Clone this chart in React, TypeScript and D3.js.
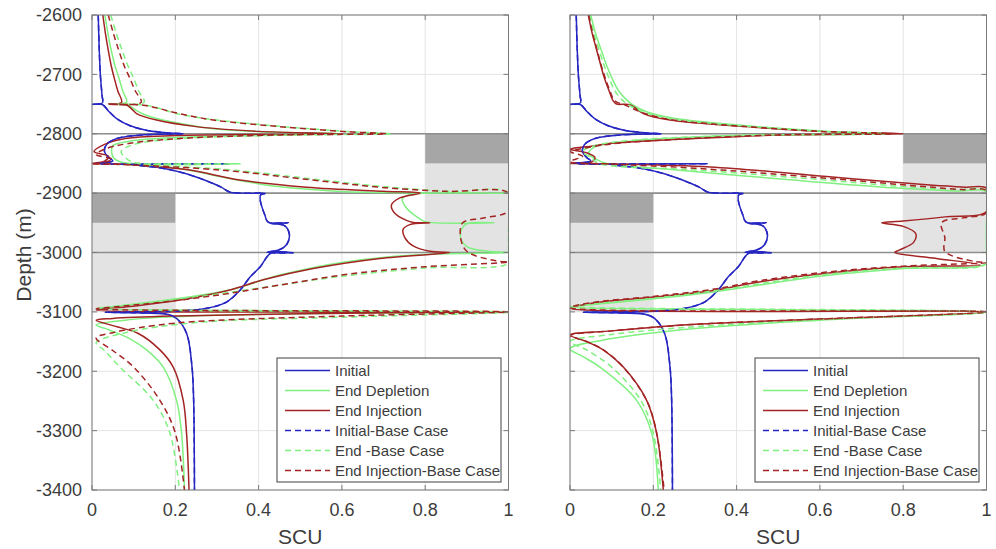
import React from 'react';
import * as d3 from 'd3';

type Pt = [number, number];

// ---- axis ticks ----
const scuTicks = [0, 0.2, 0.4, 0.6, 0.8, 1];
const scuTickLabels = ['0', '0.2', '0.4', '0.6', '0.8', '1'];
const depthTicks = [-2600, -2700, -2800, -2900, -3000, -3100, -3200, -3300, -3400];
const depthTickLabels = ['-2600', '-2700', '-2800', '-2900', '-3000', '-3100', '-3200', '-3300', '-3400'];

// ---- layer boundaries and shaded intervals ----
const layerBoundaries = [-2800, -2900, -3000];
// [scuFrom, scuTo, depthTop, depthBottom]
const darkZones: [number, number, number, number][] = [
  [0, 0.2, -2900, -2950],
  [0.8, 1, -2800, -2850],
];
const lightZones: [number, number, number, number][] = [
  [0, 0.2, -2950, -3100],
  [0.8, 1, -2850, -3000],
];

// ---- series ----
const seriesNames = ['Initial', 'End Depletion', 'End Injection', 'Initial-Base Case', 'End -Base Case', 'End Injection-Base Case'];

// Initial profile (identical in both panels)
const initialProfile: Pt[] = [
  [0.015, -2600], [0.017, -2650], [0.02, -2700], [0.024, -2735], [0.025, -2748], [0.0, -2750.5], [0.025, -2751],
  [0.04, -2762], [0.06, -2775], [0.09, -2786], [0.13, -2794], [0.18, -2798.5], [0.22, -2800],
  [0.12, -2802], [0.06, -2808], [0.035, -2818], [0.03, -2830], [0.04, -2840], [0.05, -2846], [0.01, -2850], [0.33, -2850.5], [0.1, -2852],
  [0.16, -2857], [0.22, -2866], [0.27, -2878], [0.31, -2890], [0.33, -2898], [0.36, -2900], [0.415, -2900.5], [0.405, -2903],
  [0.404, -2912], [0.415, -2937], [0.423, -2949], [0.471, -2950], [0.43, -2951], [0.463, -2955], [0.474, -2970], [0.467, -2987], [0.451, -2995], [0.42, -3000], [0.483, -3000.5], [0.43, -3001],
  [0.404, -3024], [0.38, -3041], [0.356, -3063], [0.324, -3083], [0.276, -3094], [0.212, -3098.5], [0.092, -3100], [0.032, -3100.5],
  [0.1, -3101.5], [0.18, -3104], [0.203, -3111], [0.227, -3136], [0.24, -3192], [0.244, -3248], [0.246, -3400],
];

// Left panel
const leftDepletion: Pt[] = [
  [0.031, -2600], [0.038, -2630], [0.046, -2659], [0.055, -2685], [0.064, -2705], [0.074, -2728], [0.083, -2747], [0.04, -2750], [0.087, -2752],
  [0.105, -2760], [0.127, -2768], [0.165, -2776], [0.207, -2782], [0.287, -2791], [0.407, -2796.5], [0.6, -2800],
  [0.207, -2806], [0.087, -2813], [0.05, -2820], [0.047, -2828], [0.051, -2840], [0.071, -2848], [0.347, -2850.5], [0.08, -2851.5],
  [0.207, -2858], [0.327, -2875], [0.447, -2889], [0.607, -2897.5], [0.75, -2899.3], [0.99, -2900.2], [0.76, -2903],
  [0.745, -2910], [0.755, -2925], [0.78, -2940], [0.8, -2948], [0.965, -2950], [0.9, -2951.5], [0.888, -2960], [0.885, -2975], [0.9, -2990], [0.95, -2998], [1.0, -3000],
  [0.771, -3004], [0.611, -3015.5], [0.451, -3038], [0.331, -3063], [0.211, -3077], [0.051, -3091], [0.011, -3094],
  [1.0, -3100.3], [0.5, -3103], [0.2, -3108], [0.08, -3114], [0.01, -3122], [0.04, -3130], [0.09, -3145], [0.131, -3164], [0.171, -3193], [0.203, -3249], [0.215, -3304], [0.222, -3400],
];
const leftInjection: Pt[] = [
  [0.026, -2600], [0.032, -2630], [0.039, -2659], [0.046, -2685], [0.053, -2705], [0.062, -2728], [0.071, -2747], [0.04, -2750], [0.083, -2751.5],
  [0.095, -2758], [0.107, -2766], [0.155, -2777], [0.25, -2788], [0.4, -2796], [0.6, -2800],
  [0.2, -2803], [0.08, -2808], [0.03, -2818], [0.005, -2830], [0.04, -2838], [0.03, -2846], [0.0, -2850], [0.06, -2851],
  [0.15, -2855], [0.235, -2861], [0.355, -2878], [0.515, -2890], [0.7, -2897], [0.788, -2900],
  [0.739, -2908], [0.719, -2920], [0.727, -2934], [0.755, -2946], [0.771, -2949.5], [0.811, -2950], [0.763, -2953],
  [0.747, -2961], [0.751, -2975], [0.771, -2989], [0.811, -2998], [0.859, -3000],
  [0.691, -3010], [0.531, -3027], [0.411, -3046], [0.331, -3063], [0.211, -3080], [0.091, -3091], [0.011, -3097],
  [1.0, -3100], [0.5, -3103], [0.2, -3107], [0.05, -3111], [0.01, -3114], [0.06, -3125], [0.11, -3136], [0.163, -3164], [0.195, -3193], [0.219, -3249], [0.227, -3304], [0.233, -3400],
];
const leftDepletionBase: Pt[] = [
  [0.045, -2600], [0.058, -2630], [0.072, -2659], [0.086, -2685], [0.099, -2705], [0.112, -2728], [0.125, -2747], [0.06, -2750], [0.13, -2752],
  [0.21, -2767], [0.3, -2777], [0.46, -2788], [0.62, -2796.5], [0.72, -2800],
  [0.45, -2802.5], [0.2, -2809], [0.1, -2818], [0.07, -2830], [0.08, -2840], [0.1, -2848], [0.36, -2850.5], [0.12, -2852],
  [0.32, -2860], [0.54, -2877], [0.7, -2889], [0.86, -2897], [1.0, -2900],
  [1.0, -2950], [1.0, -3000], [1.0, -3018],
  [0.8, -3026], [0.6, -3040], [0.4, -3060], [0.25, -3075], [0.12, -3086], [0.03, -3094],
  [1.0, -3100.5], [0.6, -3109], [0.25, -3118], [0.08, -3135], [0.01, -3152], [0.03, -3165], [0.067, -3193], [0.147, -3249], [0.187, -3304], [0.21, -3400],
];
const leftInjectionBase: Pt[] = [
  [0.039, -2600], [0.051, -2630], [0.064, -2659], [0.077, -2685], [0.09, -2705], [0.104, -2728], [0.118, -2747], [0.04, -2750.5], [0.123, -2752],
  [0.207, -2765.6], [0.291, -2776.8], [0.451, -2788], [0.611, -2796.5], [0.707, -2800],
  [0.451, -2802], [0.211, -2808], [0.091, -2816], [0.03, -2826], [0.01, -2835], [0.05, -2843], [0.02, -2849], [0.0, -2850.5], [0.08, -2852],
  [0.307, -2861], [0.53, -2878], [0.69, -2890], [0.85, -2897], [1.0, -2900],
  [1.0, -2930], [0.94, -2942], [0.89, -2950], [0.885, -2975], [0.9, -2998], [0.97, -3014], [1.0, -3016],
  [0.8, -3024], [0.62, -3036], [0.45, -3055], [0.3, -3072], [0.15, -3085], [0.05, -3092], [0.01, -3095],
  [1.0, -3100], [0.6, -3107], [0.2, -3119], [0.05, -3135], [0.01, -3144], [0.05, -3165], [0.1, -3193], [0.163, -3249], [0.2, -3304], [0.222, -3400],
];

// Right panel
const rightDepletion: Pt[] = [
  [0.05, -2600], [0.061, -2630], [0.075, -2659], [0.088, -2685], [0.1, -2705], [0.117, -2728], [0.136, -2743], [0.152, -2752],
  [0.184, -2763], [0.25, -2774], [0.45, -2788], [0.62, -2796], [0.76, -2800],
  [0.4, -2803], [0.15, -2812], [0.06, -2822], [0.045, -2833], [0.06, -2842], [0.088, -2850],
  [0.256, -2861], [0.536, -2878], [0.776, -2891], [0.93, -2896.5], [1.0, -2898.5],
  [1.0, -2950], [1.0, -3000], [1.0, -3018],
  [0.8, -3027], [0.6, -3040], [0.35, -3066], [0.2, -3078], [0.05, -3088], [0.0, -3092],
  [1.0, -3100.5], [0.6, -3114], [0.3, -3128], [0.1, -3145], [0.0, -3162], [0.03, -3175], [0.072, -3193], [0.16, -3249], [0.196, -3304], [0.212, -3400],
];
const rightInjection: Pt[] = [
  [0.044, -2600], [0.053, -2630], [0.064, -2659], [0.074, -2685], [0.082, -2705], [0.094, -2728], [0.104, -2745], [0.112, -2750], [0.144, -2751],
  [0.176, -2766], [0.24, -2777], [0.424, -2788], [0.6, -2796], [0.8, -2800],
  [0.5, -2802], [0.24, -2810], [0.1, -2816], [0.04, -2822], [0.0, -2826], [0.04, -2832], [0.06, -2840], [0.05, -2848], [0.0, -2850], [0.1, -2851],
  [0.336, -2856], [0.616, -2872], [0.856, -2886], [0.95, -2890], [1.0, -2892],
  [1.0, -2931], [0.9, -2940], [0.8, -2947], [0.748, -2950], [0.8, -2956], [0.83, -2968], [0.825, -2983], [0.79, -2996], [0.78, -3000], [0.88, -3010], [0.985, -3021],
  [0.8, -3024], [0.616, -3035], [0.45, -3050], [0.352, -3063], [0.2, -3075], [0.056, -3085], [0.0, -3094],
  [1.0, -3100], [0.6, -3112], [0.3, -3121], [0.1, -3132], [0.0, -3139], [0.04, -3150], [0.08, -3164], [0.128, -3193], [0.184, -3249], [0.208, -3304], [0.224, -3400],
];
const rightDepletionBase: Pt[] = [
  [0.047, -2600], [0.057, -2630], [0.07, -2659], [0.082, -2685], [0.093, -2705], [0.108, -2728], [0.125, -2743], [0.142, -2752],
  [0.18, -2764], [0.245, -2775], [0.44, -2788], [0.61, -2796], [0.76, -2800],
  [0.4, -2803], [0.15, -2811], [0.06, -2820], [0.03, -2830], [0.05, -2840], [0.07, -2850],
  [0.3, -2861], [0.58, -2876], [0.8, -2889], [0.93, -2894], [1.0, -2896],
  [1.0, -2950], [1.0, -3000], [1.0, -3019],
  [0.8, -3026], [0.6, -3038], [0.35, -3064], [0.2, -3077], [0.05, -3087], [0.0, -3091],
  [1.0, -3100.3], [0.6, -3113], [0.3, -3125], [0.1, -3138], [0.0, -3150], [0.04, -3164], [0.1, -3193], [0.17, -3249], [0.2, -3304], [0.218, -3400],
];
const rightInjectionBase: Pt[] = [
  [0.045, -2600], [0.054, -2630], [0.065, -2659], [0.075, -2685], [0.084, -2705], [0.096, -2728], [0.108, -2745], [0.13, -2751],
  [0.176, -2765], [0.24, -2776], [0.424, -2788], [0.6, -2796], [0.77, -2800],
  [0.5, -2802], [0.24, -2810], [0.1, -2817], [0.03, -2825], [0.0, -2830], [0.03, -2838], [0.0, -2847], [0.1, -2851],
  [0.3, -2858], [0.6, -2874], [0.85, -2889], [0.94, -2894], [1.0, -2896],
  [1.0, -2933], [0.95, -2941], [0.892, -2950], [0.9, -2975], [0.9, -2998], [0.97, -3015], [1.0, -3017],
  [0.8, -3023], [0.616, -3033], [0.45, -3048], [0.352, -3061], [0.2, -3074], [0.056, -3084], [0.0, -3093],
  [1.0, -3100], [0.6, -3112], [0.3, -3121], [0.1, -3132], [0.0, -3140], [0.04, -3150], [0.08, -3164], [0.128, -3193], [0.184, -3249], [0.208, -3304], [0.226, -3400],
];

const leftSeries: Pt[][] = [initialProfile, leftDepletion, leftInjection, initialProfile, leftDepletionBase, leftInjectionBase];
const rightSeries: Pt[][] = [initialProfile, rightDepletion, rightInjection, initialProfile, rightDepletionBase, rightInjectionBase];

// ---- styling ----
const seriesColors = ['#2626c2', '#80f080', '#a32424', '#2626c2', '#80f080', '#a32424'];
const seriesDashed = [false, false, false, true, true, true];
const FONT = '"Liberation Sans", Arial, Helvetica, sans-serif';
const TEXT = '#3c3c3c';

const W = 996;
const H = 549;
const TOP = 15;
const BOTTOM = 490;
const panels = [
  { x0: 92, x1: 508.5, yLabels: true, series: leftSeries, id: 'pL' },
  { x0: 570, x1: 986.5, yLabels: false, series: rightSeries, id: 'pR' },
];

function Panel({ x0, x1, yLabels, series, id }: { x0: number; x1: number; yLabels: boolean; series: Pt[][]; id: string }) {
  const x = d3.scaleLinear().domain([0, 1]).range([x0, x1]);
  const y = d3.scaleLinear().domain([-2600, -3400]).range([TOP, BOTTOM]);
  const line = d3
    .line<Pt>()
    .x((p) => x(p[0]))
    .y((p) => y(p[1]))
    .curve(d3.curveCatmullRom.alpha(0.5));
  const tickLen = 5;
  const legX = x1 - 231.5;
  const legY = 358;
  return (
    <g>
      <defs>
        <clipPath id={id}>
          <rect x={x0} y={TOP} width={x1 - x0} height={BOTTOM - TOP} />
        </clipPath>
      </defs>
      <rect x={x0} y={TOP} width={x1 - x0} height={BOTTOM - TOP} fill="#fff" />
      {/* grid */}
      {scuTicks.map((t) => (
        <line key={'gx' + t} x1={x(t)} x2={x(t)} y1={TOP} y2={BOTTOM} stroke="#e4e4e4" strokeWidth={1} />
      ))}
      {depthTicks.map((t) => (
        <line key={'gy' + t} x1={x0} x2={x1} y1={y(t)} y2={y(t)} stroke="#e4e4e4" strokeWidth={1} />
      ))}
      {/* shaded zones */}
      {lightZones.map((z, i) => (
        <rect key={'lz' + i} x={x(z[0])} y={y(z[2])} width={x(z[1]) - x(z[0])} height={y(z[3]) - y(z[2])} fill="#e3e3e3" />
      ))}
      {darkZones.map((z, i) => (
        <rect key={'dz' + i} x={x(z[0])} y={y(z[2])} width={x(z[1]) - x(z[0])} height={y(z[3]) - y(z[2])} fill="#a6a6a6" />
      ))}
      {/* layer boundaries */}
      {layerBoundaries.map((d) => (
        <line key={'lb' + d} x1={x0} x2={x1} y1={y(d)} y2={y(d)} stroke="#8e8e8e" strokeWidth={1.6} />
      ))}
      {/* profiles */}
      <g clipPath={`url(#${id})`}>
        {series.map((s, i) => (
          <path
            key={'s' + i}
            d={line(s) || ''}
            fill="none"
            stroke={seriesColors[i]}
            strokeWidth={1.5}
            strokeDasharray={seriesDashed[i] ? '6 4' : undefined}
            strokeLinejoin="round"
          />
        ))}
      </g>
      {/* axes box and ticks */}
      <rect x={x0} y={TOP} width={x1 - x0} height={BOTTOM - TOP} fill="none" stroke="#7a7a7a" strokeWidth={1} />
      {scuTicks.map((t) => (
        <g key={'tx' + t}>
          <line x1={x(t)} x2={x(t)} y1={BOTTOM} y2={BOTTOM - tickLen} stroke="#7a7a7a" />
          <line x1={x(t)} x2={x(t)} y1={TOP} y2={TOP + tickLen} stroke="#7a7a7a" />
        </g>
      ))}
      {depthTicks.map((t) => (
        <g key={'ty' + t}>
          <line x1={x0} x2={x0 + tickLen} y1={y(t)} y2={y(t)} stroke="#7a7a7a" />
          <line x1={x1} x2={x1 - tickLen} y1={y(t)} y2={y(t)} stroke="#7a7a7a" />
        </g>
      ))}
      {scuTicks.map((t, i) => (
        <text key={'lx' + t} x={x(t)} y={516} textAnchor="middle" fontFamily={FONT} fontSize={18} fill={TEXT}>
          {scuTickLabels[i]}
        </text>
      ))}
      {yLabels &&
        depthTicks.map((t, i) => (
          <text key={'ly' + t} x={x0 - 10} y={y(t)} dy="0.35em" textAnchor="end" fontFamily={FONT} fontSize={18} fill={TEXT}>
            {depthTickLabels[i]}
          </text>
        ))}
      <text x={(x0 + x1) / 2} y={544} textAnchor="middle" fontFamily={FONT} fontSize={21} fill={TEXT}>
        SCU
      </text>
      {/* legend */}
      <rect x={legX} y={legY} width={224} height={124} fill="#fff" stroke="#404040" strokeWidth={1} />
      {seriesNames.map((n, i) => {
        const ry = legY + 12.5 + i * 20;
        return (
          <g key={'lg' + i}>
            <line
              x1={legX + 8}
              x2={legX + 53}
              y1={ry}
              y2={ry}
              stroke={seriesColors[i]}
              strokeWidth={1.5}
              strokeDasharray={seriesDashed[i] ? '6 4' : undefined}
            />
            <text x={legX + 58} y={ry} dy="0.36em" fontFamily={FONT} fontSize={15} fill={TEXT}>
              {n}
            </text>
          </g>
        );
      })}
    </g>
  );
}

export default function App() {
  return (
    <svg width={W} height={H} style={{ position: 'absolute', left: 0, top: 0, background: '#fff' }}>
      <rect x={0} y={0} width={W} height={H} fill="#fff" />
      {panels.map((p) => (
        <Panel key={p.id} {...p} />
      ))}
      <text
        transform="translate(24,255) rotate(-90)"
        textAnchor="middle"
        dy="0.35em"
        fontFamily={FONT}
        fontSize={21}
        fill={TEXT}
      >
        Depth (m)
      </text>
    </svg>
  );
}
